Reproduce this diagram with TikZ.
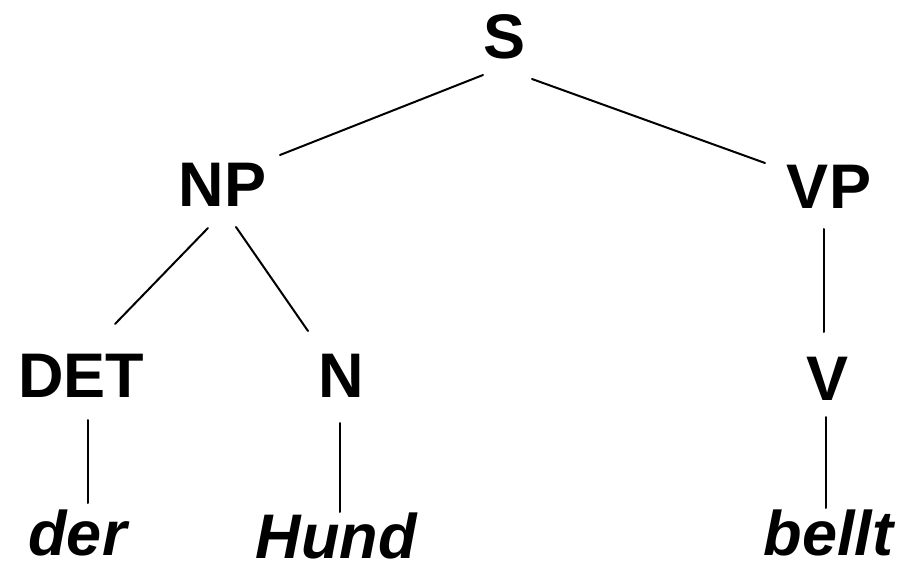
\documentclass[tikz,border=0pt]{standalone}
\usepackage{fontspec}
\setmainfont{Liberation Sans}
\usetikzlibrary{calc}
\tikzset{
  cat/.style={inner sep=0pt, anchor=base, font=\fontsize{63}{70}\selectfont\bfseries},
  word/.style={inner sep=0pt, anchor=base, font=\fontsize{63}{70}\selectfont\bfseries\itshape},
  edge/.style={line width=2pt, line cap=round}
}
\begin{document}
\begin{tikzpicture}[x=1pt,y=-1pt]
\useasboundingbox (0,0) rectangle (917,561);
\node[cat] (S) at (504.5,59) {S};
\node[cat] (NP) at (222.5,207) {NP};
\node[cat] (VP) at (829,208) {VP};
\node[cat] (DET) at (81,397) {DET};
\node[cat] (N) at (341.5,397) {N};
\node[cat] (V) at (827.5,400) {V};
\node[word] (der) at (77.5,555) {der};
\node[word] (Hund) at (336,558) {Hund};
\node[word] (bellt) at (828.5,555.5) {bellt};
\draw[edge] ($(S.base)+(-21.5,16)$) -- ($(NP.base)+(57.5,-52)$);
\draw[edge] ($(S.base)+(27.5,20)$) -- ($(VP.base)+(-64,-45)$);
\draw[edge] ($(NP.base)+(-14.5,21)$) -- ($(DET.base)+(34,-73)$);
\draw[edge] ($(NP.base)+(13.5,20)$) -- ($(N.base)+(-33.5,-66)$);
\draw[edge] ($(VP.base)+(-5,21)$) -- ($(V.base)+(-3.5,-68)$);
\draw[edge] ($(DET.base)+(7,23)$) -- ($(der.base)+(10.5,-52)$);
\draw[edge] ($(N.base)+(-1.5,26)$) -- ($(Hund.base)+(4,-46)$);
\draw[edge] ($(V.base)+(-1.5,17)$) -- ($(bellt.base)+(-2.5,-47.5)$);
\end{tikzpicture}
\end{document}
